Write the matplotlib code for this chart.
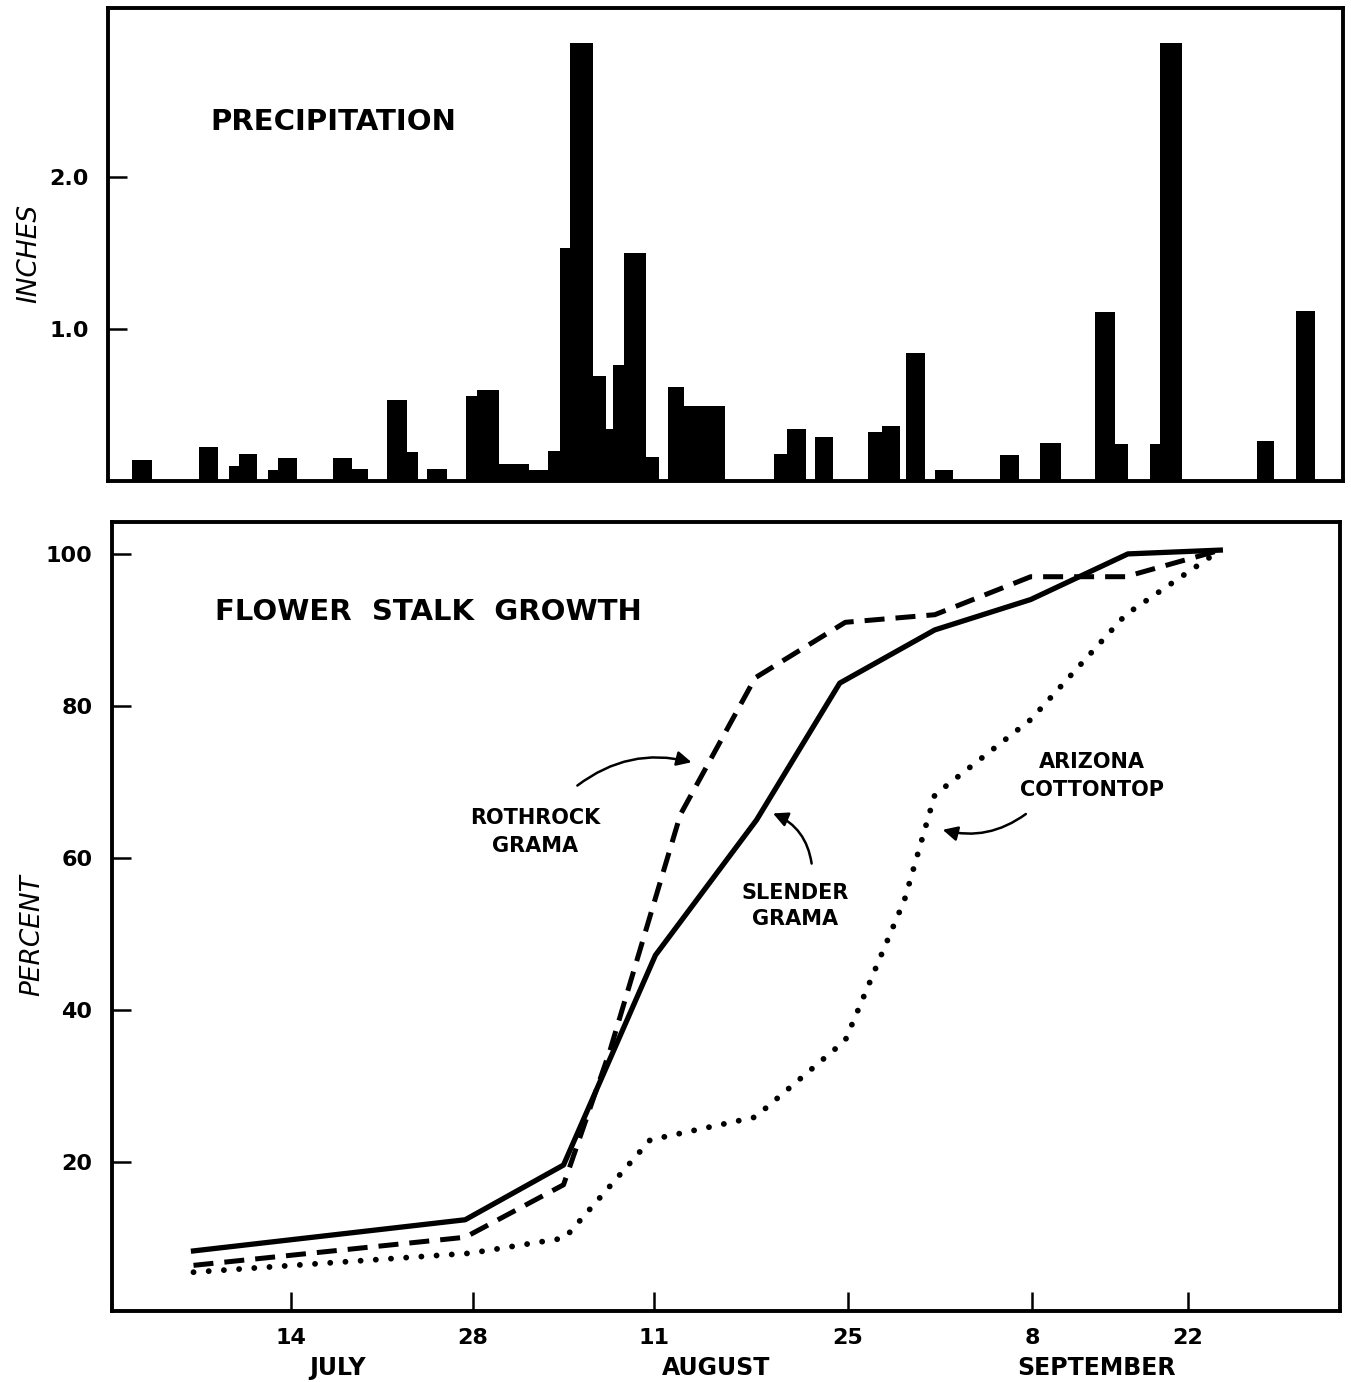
import matplotlib as mpl
mpl.use('Agg')
import matplotlib.pyplot as plt
import numpy as np

# days counted from June 30 (14 = July 14, 42 = Aug 11, 84 = Sep 22)
tick_days = [14, 28, 42, 56, 70, 84]
tick_labels = ["14", "28", "11", "25", "8", "22"]
months = ["JULY", "AUGUST", "SEPTEMBER"]
month_days = [17.6, 46.5, 75.8]

# precipitation bars: start day, end day, inches
rain_start = [1.8, 6.9, 9.2, 10.0, 12.2, 13.0, 17.2, 18.7, 21.4, 22.9, 24.5,
              27.5, 28.3, 30.0, 32.3, 33.8, 34.7, 35.5, 37.3, 38.3, 38.8,
              39.7, 41.4, 43.0, 44.2, 50.7, 51.6, 53.6, 57.5, 58.6, 60.4,
              62.6, 67.6, 70.7, 75.7, 77.5, 80.6, 81.5, 90.2, 93.7]
rain_end = [3.3, 8.4, 10.0, 11.4, 13.0, 14.5, 18.7, 19.9, 22.9, 23.8, 26.0,
            28.3, 30.0, 32.3, 33.8, 34.7, 35.5, 37.3, 38.3, 38.8, 39.7,
            41.4, 42.4, 44.2, 47.1, 51.6, 53.0, 54.9, 58.6, 60.0, 61.9,
            64.0, 69.0, 72.6, 77.5, 78.6, 81.5, 83.5, 91.7, 95.4]
rain_in = [0.14, 0.22, 0.10, 0.18, 0.07, 0.15, 0.15, 0.08, 0.53, 0.19, 0.08,
           0.56, 0.60, 0.11, 0.07, 0.20, 1.53, 2.88, 0.69, 0.34, 0.76,
           1.50, 0.16, 0.62, 0.49, 0.18, 0.34, 0.29, 0.32, 0.36, 0.84,
           0.07, 0.17, 0.25, 1.11, 0.24, 0.24, 2.88, 0.26, 1.12]

# flower stalk growth, percent
slender_day = [6.5, 27.4, 35.0, 42.1, 49.4, 55.4, 62.6, 69.9, 78.6, 86.9]
slender_pct = [8.3, 12.4, 19.6, 47.2, 65.0, 83.0, 90.0, 94.0, 100.0, 100.5]
rothrock_day = [6.5, 27.4, 35.0, 38.6, 43.9, 49.3, 55.8, 62.6, 69.9, 78.4, 86.9]
rothrock_pct = [6.4, 10.1, 17.0, 34.7, 65.7, 83.7, 91.0, 92.0, 97.0, 97.0, 100.5]
cottontop_day = [6.5, 27.8, 35.1, 41.7, 49.3, 55.8, 60.3, 62.6, 69.9, 78.4, 86.9]
cottontop_pct = [5.5, 8.0, 10.0, 22.9, 25.9, 36.0, 54.5, 68.3, 78.2, 92.0, 100.5]

# the date axis is hand drawn, the fortnights are not evenly spaced
scale_days = [-2, 0, 14, 28, 42, 56, 70, 84, 100]
scale_pos = [83, 109, 291, 473, 654, 848, 1032, 1188, 1366]
fwd = lambda d: np.interp(d, scale_days, scale_pos)
inv = lambda p: np.interp(p, scale_pos, scale_days)

plt.rcParams['font.family'] = 'DejaVu Sans'
plt.rcParams['font.weight'] = 'bold'

fig = plt.figure(figsize=(13.51, 13.82), dpi=100)
ax1 = fig.add_axes([0.0799, 0.6520, 0.9141, 0.3423])
ax2 = fig.add_axes([0.0829, 0.0514, 0.9090, 0.5709])

for ax in (ax1, ax2):
    ax.set_xscale('function', functions=(fwd, inv))
    for s in ax.spines.values():
        s.set_linewidth(2.8)
    ax.tick_params(direction='in', length=14, width=1.8, labelsize=16)

# top: precipitation
widths = np.array(rain_end) - np.array(rain_start)
ax1.bar(rain_start, rain_in, width=widths, align='edge', color='black', linewidth=0)
ax1.set_xlim(inv(108), inv(1343))
ax1.set_ylim(0, 3.11)
ax1.set_xticks([])
ax1.set_yticks([1.0, 2.0])
ax1.set_yticklabels(["1.0", "2.0"])
ax1.tick_params(axis='y', pad=14)
ax1.set_ylabel("INCHES", fontsize=19, fontstyle='italic', fontweight='normal')
ax1.yaxis.set_label_coords(-0.053, 0.48)
ax1.text(0.083, 0.759, "PRECIPITATION", transform=ax1.transAxes,
         fontsize=21, ha='left', va='center')

# bottom: flower stalk growth
ax2.plot(slender_day, slender_pct, color='black', lw=3.8, solid_joinstyle='round')
ax2.plot(rothrock_day, rothrock_pct, color='black', lw=3.6, linestyle=(0, (4, 2.2)))
ax2.plot(cottontop_day, cottontop_pct, color='black', lw=4.2,
         linestyle=(0, (0.01, 2.6)), dash_capstyle='round')
ax2.set_xlim(inv(112), inv(1340))
ax2.set_ylim(0.4, 104.2)
ax2.set_yticks([20, 40, 60, 80, 100])
ax2.set_xticks(tick_days)
ax2.set_xticklabels(tick_labels)
ax2.tick_params(axis='y', pad=14)
ax2.tick_params(axis='x', pad=12)
ax2.set_ylabel("PERCENT", fontsize=19, fontstyle='italic', fontweight='normal')
ax2.yaxis.set_label_coords(-0.0546, 0.476)
for d, m in zip(month_days, months):
    ax2.text(d, -0.072, m, transform=ax2.get_xaxis_transform(),
             fontsize=17, ha='center', va='center')
ax2.text(0.084, 0.886, "FLOWER  STALK  GROWTH", transform=ax2.transAxes,
         fontsize=21, ha='left', va='center')

arrow = dict(arrowstyle='-|>', color='black', lw=1.8, mutation_scale=22)
ax2.text(32.8, 63.4, "ROTHROCK\nGRAMA", fontsize=15, ha='center', va='center',
         linespacing=1.5)
ax2.annotate("", xy=(44.9, 72.5), xytext=(35.9, 69.3),
             arrowprops=dict(arrow, connectionstyle='arc3,rad=-0.25'))
ax2.text(52.2, 53.7, "SLENDER\nGRAMA", fontsize=15, ha='center', va='center',
         linespacing=1.4)
ax2.annotate("", xy=(50.4, 66.0), xytext=(53.4, 58.9),
             arrowprops=dict(arrow, connectionstyle='arc3,rad=0.3'))
ax2.text(75.4, 70.8, "ARIZONA\nCOTTONTOP", fontsize=15, ha='center', va='center',
         linespacing=1.5)
ax2.annotate("", xy=(63.0, 63.8), xytext=(69.7, 66.0),
             arrowprops=dict(arrow, connectionstyle='arc3,rad=-0.25'))

plt.savefig("out.png", dpi=100)
